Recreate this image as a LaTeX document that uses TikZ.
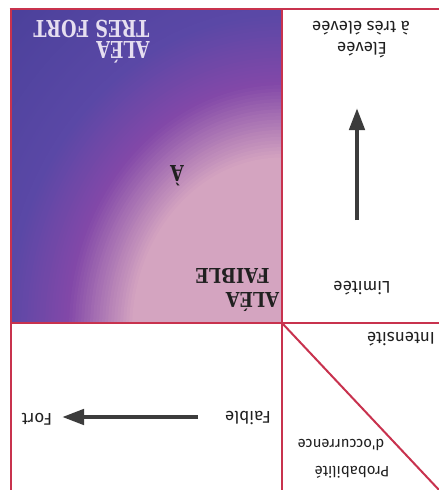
\documentclass[tikz,border=0pt]{standalone}
\usepackage{fontspec}
\setmainfont{Fira Sans}
\newfontfamily\lblfont{Fira Sans}
\newfontfamily\titlefont{DejaVu Serif}
\usetikzlibrary{arrows.meta}
\definecolor{redline}{HTML}{C8324E}
\definecolor{pinkc}{HTML}{D4A4C0}
\definecolor{midp}{HTML}{8248A8}
\definecolor{bluep}{HTML}{5A48A6}
\definecolor{darkb}{HTML}{4A409A}
\definecolor{arrowc}{HTML}{3C3C3C}
\definecolor{titlelight}{HTML}{E6DEF0}
\definecolor{txt}{HTML}{202020}
\tikzset{
  redl/.style={draw=redline, line width=2.6pt},
  bigarrow/.style={draw=arrowc, line width=4.5pt, -{Triangle[length=22pt,width=15pt]}},
  lbl/.style={rotate=180, text=txt, font=\lblfont\fontsize{17}{19}\selectfont, inner sep=0pt},
  smalllbl/.style={lbl, font=\lblfont\fontsize{15}{17}\selectfont},
  ttl/.style={rotate=180, inner sep=0pt},
}
\newcommand{\ttltext}[3]{\scalebox{#2}[1]{\fontsize{#1}{#1}\selectfont\titlefont\bfseries #3}}
\begin{document}
\begin{tikzpicture}[x=1pt,y=-1pt]
\useasboundingbox (0,0) rectangle (439,490);
\fill[white] (0,0) rectangle (439,490);
\begin{scope}
  \clip (11,9) rectangle (282,323);
  \fill[darkb] (11,9) rectangle (282,323);
  \foreach \r in {400,397,...,275} {
    \pgfmathtruncatemacro{\p}{(\r-275)/125*100}
    \fill[darkb!\p!bluep] (282,330) ellipse [x radius=\r pt, y radius=1.15*\r pt];
  }
  \foreach \r in {273,270,...,215} {
    \pgfmathtruncatemacro{\p}{(\r-215)/60*100}
    \fill[bluep!\p!midp] (282,330) ellipse [x radius=\r pt, y radius=1.15*\r pt];
  }
  \foreach \r in {213,210,...,150} {
    \pgfmathtruncatemacro{\p}{(\r-150)/65*100}
    \fill[midp!\p!pinkc] (282,330) ellipse [x radius=\r pt, y radius=1.15*\r pt];
  }
  \fill[pinkc] (282,330) ellipse [x radius=148pt, y radius=170pt];
\end{scope}
% grid
\draw[redl] (9.7,9) -- (439,9);
\draw[redl] (11,9) -- (11,490);
\draw[redl] (282,9) -- (282,490);
\draw[redl] (11,323) -- (439,323);
\draw[redl, line width=2pt] (282,323) -- (440,491);
% arrows
\coordinate (vt) at (357,220);
\coordinate (vh) at (357,108);
\coordinate (ht) at (198,417);
\coordinate (hh) at (62,417);
\draw[bigarrow] (vt) -- (vh);
\draw[bigarrow] (ht) -- (hh);
% titles
\node[ttl, text=titlelight] (t1) at (123,52) {\ttltext{23.3}{0.76}{ALÉA}};
\node[ttl, text=titlelight] (t2) at (91.5,28.5) {\ttltext{23.3}{0.76}{TRES FORT}};
\node[ttl, text=txt] (f1) at (252.5,302) {\ttltext{20.5}{0.86}{ALÉA}};
\node[ttl, text=txt] (f2) at (232.5,275.5) {\ttltext{20.5}{0.86}{FAIBLE}};
\node[ttl, text=txt] (a) at (177,176) {\ttltext{22}{0.8}{À}};
% labels
\node[lbl] (el) at (362,50) {Élevée};
\node[lbl] (te) at (361,28) {à très élevée};
\node[lbl] (li) at (362,288) {Limitée};
\node[lbl] (in) at (401,339) {Intensité};
\node[smalllbl] (oc) at (341,445) {d'occurrence};
\node[smalllbl] (pr) at (352,472) {Probabilité};
\node[lbl] (fa) at (248,418) {Faible};
\node[lbl] (fo) at (37,419) {Fort};
\end{tikzpicture}
\end{document}
